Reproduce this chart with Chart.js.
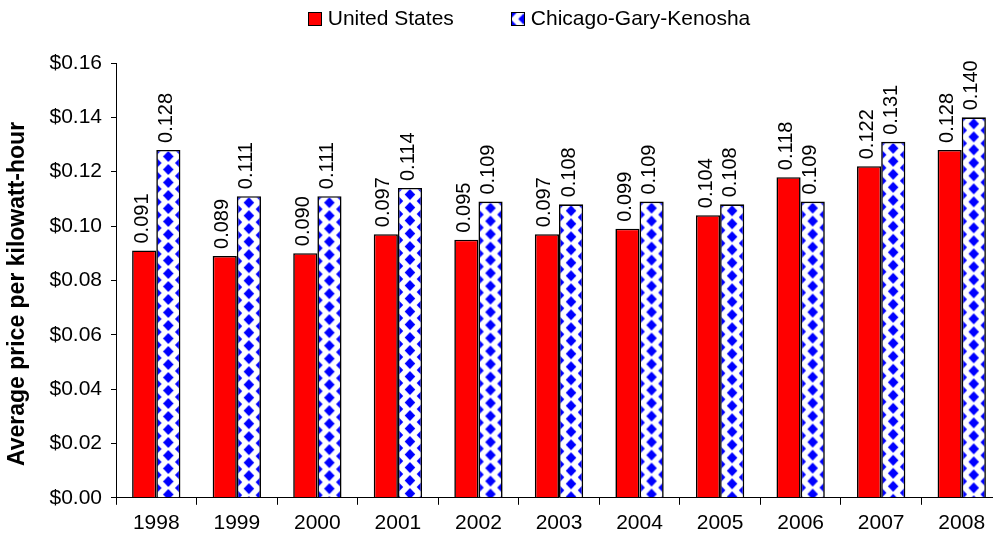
<!DOCTYPE html>
<html>
<head>
<meta charset="utf-8">
<script src="https://cdn.jsdelivr.net/npm/chart.js@4.4.0/dist/chart.umd.min.js"></script>
<style>
  html, body { margin: 0; padding: 0; background: #fff; overflow: hidden; }
</style>
</head>
<body>
<!-- the original plot runs a few pixels past the right edge of the picture -->
<canvas id="priceChart" width="1002" height="544"></canvas>
<script>
// values (dollars per kWh)
const years = ['1998', '1999', '2000', '2001', '2002', '2003', '2004', '2005', '2006', '2007', '2008'];
const usPrices = [0.091, 0.089, 0.090, 0.097, 0.095, 0.097, 0.099, 0.104, 0.118, 0.122, 0.128];
const chicagoPrices = [0.128, 0.111, 0.111, 0.114, 0.109, 0.108, 0.109, 0.108, 0.109, 0.131, 0.140];
const seriesNames = ['United States', 'Chicago-Gary-Kenosha'];
const yAxisTitle = 'Average price per kilowatt-hour';

const RED = '#ff0000';
const BLUE = '#0000ff';
const FONT = '"Liberation Sans", Arial, sans-serif';

Chart.defaults.font.family = FONT;
Chart.defaults.color = '#000';

let tileCache = {};

function diamondTile(w, h) {
    const key = w + 'x' + h;
    if (tileCache[key]) return tileCache[key];
    const c = document.createElement('canvas');
    c.width = w;
    c.height = h;
    const g = c.getContext('2d');
    g.fillStyle = '#fff';
    g.fillRect(0, 0, w, h);
    g.fillStyle = BLUE;
    const hw = w * 0.22, hh = h * 0.43;
    const centers = [[w / 2, h / 2], [0, 0], [w, 0], [0, h], [w, h]];
    centers.forEach(([cx, cy]) => {
        g.beginPath();
        g.moveTo(cx, cy - hh);
        g.lineTo(cx + hw, cy);
        g.lineTo(cx, cy + hh);
        g.lineTo(cx - hw, cy);
        g.closePath();
        g.fill();
    });
    tileCache[key] = c;
    return c;
}

function diamondPattern(ctx, x, y, w) {
    if (!isFinite(w) || !isFinite(x) || !isFinite(y)) return BLUE;
    const tile = diamondTile(Math.max(4, Math.round(w)), 13);
    const pat = ctx.createPattern(tile, 'repeat');
    pat.setTransform(new DOMMatrix().translate(x, y));
    return pat;
}

function chicagoFill(context) {
    const chart = context.chart;
    const xs = chart.scales.x;
    const ys = chart.scales.y;
    if (!xs || !ys || context.dataIndex == null || !xs.width) return BLUE;
    const center = xs.getPixelForValue(context.dataIndex);
    const catWidth = xs.width / years.length;
    const barW = catWidth * 0.3;
    const top = ys.getPixelForValue(chicagoPrices[context.dataIndex]);
    return diamondPattern(chart.ctx, center, top, barW);
}

// rotated value labels above each bar
const valueLabels = {
    id: 'valueLabels',
    afterDatasetsDraw(chart) {
        const c = chart.ctx;
        c.save();
        c.font = '20px ' + FONT;
        c.fillStyle = '#000';
        c.textAlign = 'left';
        c.textBaseline = 'middle';
        chart.data.datasets.forEach((ds, di) => {
            const meta = chart.getDatasetMeta(di);
            meta.data.forEach((bar, i) => {
                c.save();
                c.translate(bar.x - 2, bar.y - 7);
                c.rotate(-Math.PI / 2);
                c.fillText(ds.data[i].toFixed(3), 0, 0);
                c.restore();
            });
        });
        c.restore();
    }
};

// legend and axis title drawn by hand so their spacing can match
const legendBoxes = {
    id: 'legendBoxes',
    afterDraw(chart) {
        const c = chart.ctx;
        c.save();
        c.font = '21px ' + FONT;
        c.textBaseline = 'middle';
        c.textAlign = 'left';
        const box = 13, gapText = 7, gapItem = 57, centerX = 529, midY = 19;
        const widths = seriesNames.map(n => box + gapText + c.measureText(n).width);
        const total = widths[0] + gapItem + widths[1];
        let x = centerX - total / 2;
        seriesNames.forEach((name, i) => {
            const bx = Math.round(x) + 0.5, by = midY - 7 + 0.5;
            c.fillStyle = i === 0 ? RED : diamondPattern(c, bx, by, 24);
            c.fillRect(bx, by, box, box);
            c.strokeStyle = '#000';
            c.lineWidth = 1;
            c.strokeRect(bx, by, box, box);
            c.fillStyle = '#000';
            c.fillText(name, x + box + gapText, midY);
            x += widths[i] + gapItem;
        });

        c.font = 'bold 23px ' + FONT;
        c.textAlign = 'center';
        c.translate(18, 294);
        c.rotate(-Math.PI / 2);
        c.fillText(yAxisTitle, 0, 0);
        c.restore();
    }
};

const ctx = document.getElementById('priceChart').getContext('2d');
const priceChart = new Chart(ctx, {
    type: 'bar',
    data: {
        labels: years,
        datasets: [{
            label: seriesNames[0],
            data: usPrices,
            backgroundColor: RED,
            borderColor: '#000',
            borderWidth: 1.6,
            categoryPercentage: 0.6,
            barPercentage: 1.0
        }, {
            label: seriesNames[1],
            data: chicagoPrices,
            backgroundColor: chicagoFill,
            borderColor: '#000',
            borderWidth: 1.6,
            categoryPercentage: 0.6,
            barPercentage: 1.0
        }]
    },
    options: {
        responsive: false,
        animation: false,
        layout: { padding: { top: 63, right: 0, bottom: 2, left: 0 } },
        plugins: {
            legend: { display: false },
            tooltip: { enabled: false }
        },
        scales: {
            x: {
                grid: { drawOnChartArea: false, offset: true, tickLength: 7, color: '#000' },
                border: { color: '#000', width: 1 },
                ticks: { color: '#000', font: { size: 21 }, padding: 6, maxRotation: 0 }
            },
            y: {
                min: 0,
                max: 0.16,
                ticks: {
                    stepSize: 0.02,
                    color: '#000',
                    font: { size: 21 },
                    padding: 9,
                    callback: v => '$' + v.toFixed(2)
                },
                grid: { drawOnChartArea: false, tickLength: 5, color: '#000' },
                border: { color: '#000', width: 1 },
                afterFit: s => { s.width = 116; }
            }
        }
    },
    plugins: [valueLabels, legendBoxes]
});
</script>
</body>
</html>
